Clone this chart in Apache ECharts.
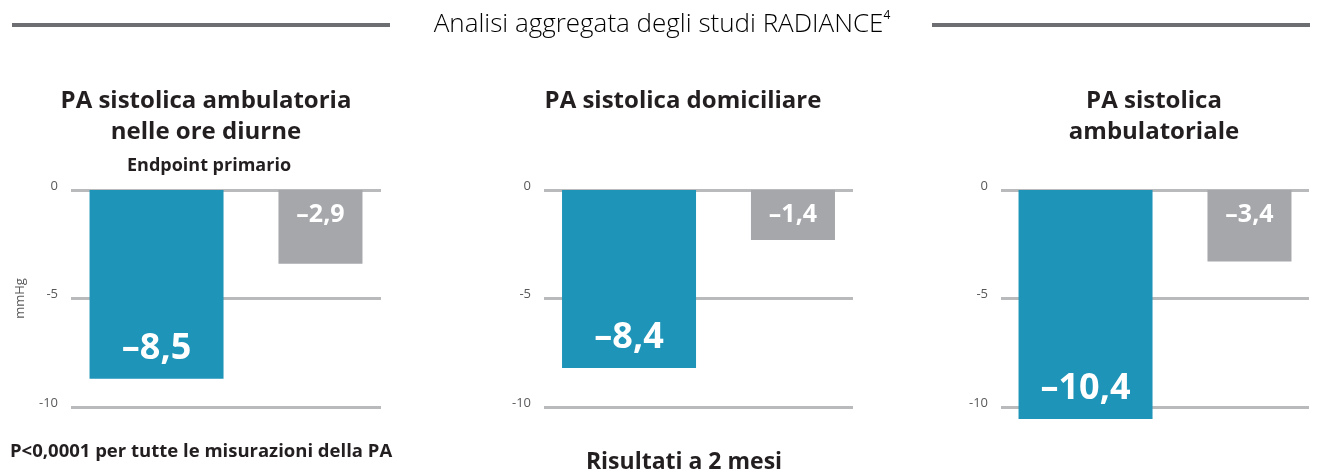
<!DOCTYPE html>
<html>
<head>
<meta charset="UTF-8">
<title>Analisi aggregata degli studi RADIANCE</title>
<script src="https://cdn.jsdelivr.net/npm/echarts@6/dist/echarts.min.js"></script>
<style>
  html, body { margin: 0; padding: 0; background: #fff; }
  #chart { width: 1319px; height: 476px; }
</style>
</head>
<body>
<div id="chart"></div>
<script>
// chart data
var panelTitles = ['PA sistolica ambulatoria\nnelle ore diurne', 'PA sistolica domiciliare', 'PA sistolica\nambulatoriale'];
var panelNotes = ['Endpoint primario', '', ''];
// bar lengths as drawn in the picture (mmHg) and the printed values
var rdnBars = [-8.7, -8.2, -10.55];
var shamBars = [-3.4, -2.3, -3.3];
var rdnLabels = ['-8,5', '-8,4', '-10,4'];
var shamLabels = ['-2,9', '-1,4', '-3,4'];
var yMin = -10, yMax = 0, yStep = 5;
var unitName = 'mmHg';
var mainTitle = 'Analisi aggregata degli studi RADIANCE';
var footNote = 'P<0,0001 per tutte le misurazioni della PA';
var timeNote = 'Risultati a 2 mesi';

var dark = '#231f20';
var font = 'Open Sans';

// panel boxes
var gridLeft = [71, 544, 1001];
var gridWidth = [310, 309, 308];
var titleX = [206, 683, 1154];

function dash(s) {
	// printed values use a long dash
	return s.replace('-', '\u2013');
}

var grids = [], xAxes = [], yAxes = [], series = [], graphics = [];

for (var i = 0; i < 3; i++) {
	grids.push({ left: gridLeft[i], width: gridWidth[i], top: 190, height: 217 });
	xAxes.push({ type: 'category', gridIndex: i, data: [''], show: false });
	yAxes.push({
		type: 'value', gridIndex: i, min: yMin, max: yMax, interval: yStep,
		name: i === 0 ? unitName : '',
		nameLocation: 'middle', nameRotate: 90, nameGap: 44,
		nameTextStyle: { color: '#58595b', fontSize: 13, fontFamily: font },
		axisLine: { show: false }, axisTick: { show: false },
		axisLabel: { color: '#58595b', fontSize: 13, fontFamily: font, margin: 13,
			verticalAlign: 'bottom', lineHeight: 8 },
		splitLine: { lineStyle: { color: '#b9babc', width: 3 } }
	});
	series.push({
		type: 'bar', xAxisIndex: i, yAxisIndex: i, data: [rdnBars[i]],
		barWidth: 134, barGap: '41%', clip: false,
		itemStyle: { color: '#1e95b8' },
		label: { show: true, position: 'insideBottom', distance: 12,
			formatter: dash(rdnLabels[i]),
			color: '#fff', fontSize: 36, fontWeight: 'bold', fontFamily: font }
	});
	series.push({
		type: 'bar', xAxisIndex: i, yAxisIndex: i, data: [shamBars[i]],
		barWidth: 84, barGap: '41%', clip: false,
		itemStyle: { color: '#a6a7ab' },
		label: { show: true, position: 'insideTop', distance: 12,
			formatter: dash(shamLabels[i]),
			color: '#fff', fontSize: 25, fontWeight: 'bold', fontFamily: font }
	});
	graphics.push({
		type: 'text', x: titleX[i], y: 86,
		style: { text: panelTitles[i], fill: dark, font: 'bold 24px "' + font + '"',
			align: 'center', verticalAlign: 'top', lineHeight: 31 }
	});
	if (panelNotes[i]) {
		graphics.push({
			type: 'text', x: titleX[i] + 3, y: 166,
			style: { text: panelNotes[i], fill: dark, font: 'bold 18px "' + font + '"',
				align: 'center', verticalAlign: 'middle' }
		});
	}
}

// heading with side rules
graphics.push({ type: 'line', shape: { x1: 12, y1: 25, x2: 390, y2: 25 }, style: { stroke: '#6d6e71', lineWidth: 4 } });
graphics.push({ type: 'line', shape: { x1: 932, y1: 25, x2: 1310, y2: 25 }, style: { stroke: '#6d6e71', lineWidth: 4 } });
graphics.push({
	type: 'text', x: 662, y: 25,
	style: {
		text: '{t|' + mainTitle + '}{s|4}', align: 'center', verticalAlign: 'middle',
		rich: {
			t: { fontSize: 26, fontWeight: 300, fontFamily: font, color: dark, lineHeight: 30 },
			s: { fontSize: 12, fontFamily: font, color: dark, verticalAlign: 'top', lineHeight: 30 }
		}
	}
});
graphics.push({
	type: 'text', x: 10, y: 452,
	style: { text: footNote, fill: dark, font: 'bold 18.5px "' + font + '"', align: 'left', verticalAlign: 'middle' }
});
graphics.push({
	type: 'text', x: 684, y: 462,
	style: { text: timeNote, fill: dark, font: 'bold 23px "' + font + '"', align: 'center', verticalAlign: 'middle' }
});

var myChart = echarts.init(document.getElementById('chart'));
var option = {
	animation: false,
	textStyle: { fontFamily: font },
	grid: grids,
	xAxis: xAxes,
	yAxis: yAxes,
	series: series,
	graphic: graphics
};
myChart.setOption(option);
</script>
</body>
</html>
